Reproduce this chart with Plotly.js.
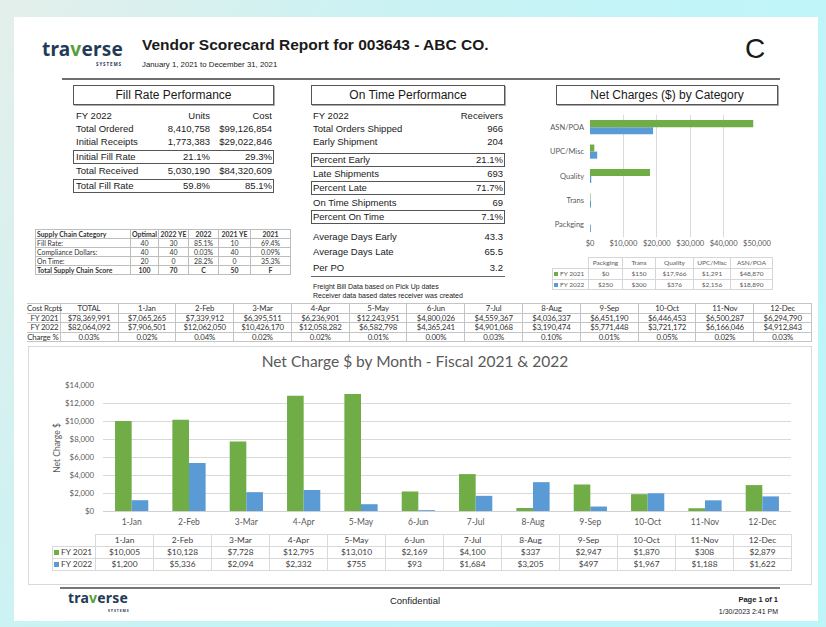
<!DOCTYPE html>
<html><head><meta charset="utf-8">
<script src="https://cdn.plot.ly/plotly-3.0.1.min.js"></script>
<style>
html,body{margin:0;padding:0;}
body{width:826px;height:627px;overflow:hidden;position:relative;
 background:linear-gradient(120deg,#e4efea 0%,#cdf2f3 30%,#c0f4f8 60%,#bdf5f9 100%);
 font-family:"Liberation Sans",Arial,sans-serif;color:#1a1a1a;}
.card{position:absolute;left:14px;top:17px;width:804px;height:604px;background:#fff;}
.t{position:absolute;white-space:nowrap;}
.bx{position:absolute;box-sizing:border-box;border:1px solid #555;}
.rule{position:absolute;background:#6a6a6a;}
table{border-collapse:collapse;table-layout:fixed;position:absolute;font-family:Lato,sans-serif;}
td{padding:0;overflow:visible;white-space:nowrap;}
.logo{position:absolute;font-family:"Noto Sans",sans-serif;font-weight:bold;color:#1f3b57;letter-spacing:0.2px;}
.logo .v{color:#5a9e3a;}
.sys{position:absolute;font-family:"Noto Sans",sans-serif;font-weight:bold;color:#1f3b57;letter-spacing:0.9px;}
</style></head>
<body>
<div class="card"></div>
<div id="netcat" style="position:absolute;left:540px;top:110px;width:240px;height:142px;"></div>
<div id="monthly" style="position:absolute;left:28px;top:346px;width:784px;height:186px;"></div>
<script>
// ---------------- DATA ----------------
const reportTitle = 'Vendor Scorecard Report for 003643 - ABC CO.';
const reportDates = 'January 1, 2021 to December 31, 2021';
const overallGrade = 'C';

const fillHeader = ['FY 2022', 'Units', 'Cost'];
const fillLabels = ['Total Ordered', 'Initial Receipts', 'Initial Fill Rate', 'Total Received', 'Total Fill Rate'];
const fillUnits = ['8,410,758', '1,773,383', '21.1%', '5,030,190', '59.8%'];
const fillCost = ['$99,126,854', '$29,022,846', '29.3%', '$84,320,609', '85.1%'];

const onTimeHeader = ['FY 2022', 'Receivers'];
const onTimeLabels = ['Total Orders Shipped', 'Early Shipment', 'Percent Early', 'Late Shipments', 'Percent Late',
  'On Time Shipments', 'Percent On Time', 'Average Days Early', 'Average Days Late', 'Per PO'];
const onTimeValues = ['966', '204', '21.1%', '693', '71.7%', '69', '7.1%', '43.3', '65.5', '3.2'];
const onTimeNotes = ['Freight Bill Data based on Pick Up dates', 'Receiver data based dates receiver was created'];

const scHeaders = ['Supply Chain Category', 'Optimal', '2022 YE', '2022', '2021 YE', '2021'];
const scCategories = ['Fill Rate:', 'Compliance Dollars:', 'On Time:', 'Total Supply Chain Score'];
const scOptimal = ['40', '40', '20', '100'];
const sc2022YE = ['30', '40', '0', '70'];
const sc2022 = ['85.1%', '0.03%', '28.2%', 'C'];
const sc2021YE = ['10', '40', '0', '50'];
const sc2021 = ['69.4%', '0.09%', '35.3%', 'F'];

const catNames = ['Packging', 'Trans', 'Quality', 'UPC/Misc', 'ASN/POA'];
const catFY2021 = [0, 150, 17966, 1291, 48870];
const catFY2022 = [250, 300, 376, 2156, 18890];

const costColumns = ['TOTAL', '1-Jan', '2-Feb', '3-Mar', '4-Apr', '5-May', '6-Jun', '7-Jul', '8-Aug', '9-Sep', '10-Oct', '11-Nov', '12-Dec'];
const costFY2021 = [78369991, 7065265, 7339912, 6395511, 6236901, 12243951, 4800026, 4559367, 4036337, 6451190, 6446453, 6500287, 6294790];
const costFY2022 = [82064092, 7906501, 12062050, 10426170, 12058282, 6582798, 4365241, 4901068, 3190474, 5771448, 3721172, 6166046, 4912843];
const chargePct = ['0.03%', '0.02%', '0.04%', '0.02%', '0.02%', '0.01%', '0.00%', '0.03%', '0.10%', '0.01%', '0.05%', '0.02%', '0.03%'];

const months = ['1-Jan', '2-Feb', '3-Mar', '4-Apr', '5-May', '6-Jun', '7-Jul', '8-Aug', '9-Sep', '10-Oct', '11-Nov', '12-Dec'];
const netFY2021 = [10005, 10128, 7728, 12795, 13010, 2169, 4100, 337, 2947, 1870, 308, 2879];
const netFY2022 = [1200, 5336, 2094, 2332, 755, 93, 1684, 3205, 497, 1967, 1188, 1622];
const seriesNames = ['FY 2021', 'FY 2022'];

const footerCenter = 'Confidential';
const footerPage = 'Page 1 of 1';
const footerStamp = '1/30/2023 2:41 PM';

// ---------------- HELPERS ----------------
const GREEN = '#70ad47', BLUE = '#5b9bd5';
function txt(s, x, y, o) {
  o = o || {};
  const d = document.createElement('div');
  d.className = 't';
  d.textContent = s;
  const fs = o.fs || 9.5, h = fs * 1.2;
  d.style.fontSize = fs + 'px';
  d.style.top = (y - h / 2) + 'px'; d.style.height = h + 'px'; d.style.lineHeight = h + 'px';
  if (o.align === 'right') { d.style.left = (x - 400) + 'px'; d.style.width = '400px'; d.style.textAlign = 'right'; }
  else if (o.align === 'center') { d.style.left = (x - 400) + 'px'; d.style.width = '800px'; d.style.textAlign = 'center'; }
  else d.style.left = x + 'px';
  if (o.bold) d.style.fontWeight = 'bold';
  if (o.color) d.style.color = o.color;
  if (o.family) d.style.fontFamily = o.family;
  document.body.appendChild(d);
  return d;
}
function box(x1, y1, x2, y2, extra) {
  const d = document.createElement('div');
  d.className = 'bx';
  d.style.left = x1 + 'px'; d.style.top = y1 + 'px';
  d.style.width = (x2 - x1) + 'px'; d.style.height = (y2 - y1) + 'px';
  if (extra) Object.assign(d.style, extra);
  document.body.appendChild(d);
  return d;
}
function rule(x1, y, x2, h, color) {
  const d = document.createElement('div');
  d.className = 'rule';
  d.style.left = x1 + 'px'; d.style.top = y + 'px'; d.style.width = (x2 - x1) + 'px'; d.style.height = h + 'px';
  if (color) d.style.background = color;
  document.body.appendChild(d);
}
function table(x, y, colWidths, rowH, rows, style) {
  const t = document.createElement('table');
  t.style.left = x + 'px'; t.style.top = y + 'px';
  t.style.width = colWidths.reduce((a, b) => a + b, 0) + 'px';
  if (style.ls) t.style.letterSpacing = style.ls + 'px';
  const cg = document.createElement('colgroup');
  colWidths.forEach(w => { const c = document.createElement('col'); c.style.width = w + 'px'; cg.appendChild(c); });
  t.appendChild(cg);
  rows.forEach((r, ri) => {
    const tr = document.createElement('tr');
    r.forEach((cell, ci) => {
      const td = document.createElement('td');
      td.style.height = rowH + 'px'; td.style.lineHeight = rowH + 'px';
      td.style.fontSize = style.fs + 'px'; td.style.color = style.color;
      td.style.border = '1px solid ' + style.border;
      td.style.textAlign = ci === 0 ? (style.firstAlign || 'left') : 'center';
      if (ci === 0 && style.firstPad) td.style.paddingLeft = style.firstPad + 'px';
      if (ci === 0 && style.firstPadR) td.style.paddingRight = style.firstPadR + 'px';
      if (ci === 0 && style.noLeft) td.style.borderLeft = 'none';
      if (style.boldRows && style.boldRows.indexOf(ri) >= 0) td.style.fontWeight = 'bold';
      if (typeof cell === 'object' && cell !== null) {
        if (cell.html) td.innerHTML = cell.html; else td.textContent = cell.text;
        if (cell.noBorder) { td.style.borderTop = 'none'; td.style.borderLeft = 'none'; }
      } else td.textContent = cell;
      tr.appendChild(td);
    });
    t.appendChild(tr);
  });
  document.body.appendChild(t);
  return t;
}
const money = v => '$' + v.toLocaleString('en-US');
function logo(x, y, fs, sx, sy, sfs) {
  const l = document.createElement('div');
  l.className = 'logo'; l.style.left = x + 'px'; l.style.top = y + 'px'; l.style.fontSize = fs + 'px';
  l.style.lineHeight = fs + 'px'; l.style.height = fs + 'px';
  l.innerHTML = 'tra<span class="v">v</span>erse';
  document.body.appendChild(l);
  const s = document.createElement('div');
  s.className = 'sys'; s.style.left = sx + 'px'; s.style.top = sy + 'px'; s.style.fontSize = sfs + 'px';
  s.style.lineHeight = sfs + 'px';
  s.textContent = 'SYSTEMS';
  document.body.appendChild(s);
}

// ---------------- HEADER ----------------
logo(42, 40, 19, 96, 61.5, 4.5);
txt(reportTitle, 142, 45, { fs: 15.5, bold: true });
txt(reportDates, 142, 65, { fs: 7.8 });
txt(overallGrade, 755, 49, { fs: 28, align: 'center' });
rule(62, 78, 780, 2, '#6e6e6e');

// ---------------- FILL RATE ----------------
box(73, 85, 274, 105, { boxShadow: '1px 1px 0 #aaa' });
txt('Fill Rate Performance', 173.5, 95, { fs: 12, align: 'center' });
txt(fillHeader[0], 76, 116);
txt(fillHeader[1], 210, 116, { align: 'right' });
txt(fillHeader[2], 272, 116, { align: 'right' });
const fillY = [129, 142, 157, 171, 186];
const fillBoxed = [false, false, true, false, true];
fillLabels.forEach((lab, i) => {
  if (fillBoxed[i]) box(73, fillY[i] - 7, 274, fillY[i] + 7);
  txt(lab, 76, fillY[i]);
  txt(fillUnits[i], 210, fillY[i], { align: 'right' });
  txt(fillCost[i], 272, fillY[i], { align: 'right' });
});

// ---------------- ON TIME ----------------
box(311, 85, 505, 105, { boxShadow: '1px 1px 0 #aaa' });
txt('On Time Performance', 408, 95, { fs: 12, align: 'center' });
txt(onTimeHeader[0], 313, 116);
txt(onTimeHeader[1], 503, 116, { align: 'right' });
const otY = [129, 142, 160, 174, 188, 203, 217, 237, 252, 268];
const otBoxed = [false, false, true, false, true, false, true, false, false, false];
onTimeLabels.forEach((lab, i) => {
  if (otBoxed[i]) box(311, otY[i] - 7, 505, otY[i] + 7);
  txt(lab, 313, otY[i]);
  txt(onTimeValues[i], 503, otY[i], { align: 'right' });
});
rule(311, 276, 505, 1, '#666');
txt(onTimeNotes[0], 313, 287, { fs: 7 });
txt(onTimeNotes[1], 313, 296, { fs: 7 });

// ---------------- SUPPLY CHAIN TABLE ----------------
(function () {
  const rows = [scHeaders];
  scCategories.forEach((c, i) => rows.push([c, scOptimal[i], sc2022YE[i], sc2022[i], sc2021YE[i], sc2021[i]]));
  table(35, 229, [95, 28, 30, 30, 32, 40], 8, rows,
    { fs: 6.9, color: '#333', border: '#bdbdbd', firstPad: 1, boldRows: [0, 4] });
})();

// ---------------- NET CHARGES BY CATEGORY ----------------
box(556, 85, 778, 105, { boxShadow: '1px 1px 0 #aaa' });
txt('Net Charges ($) by Category', 667, 95, { fs: 12, align: 'center' });
const axisFont = { family: 'Lato, sans-serif', color: '#595959' };
Plotly.newPlot('netcat', [
  { type: 'bar', orientation: 'h', name: seriesNames[1], y: catNames, x: catFY2022, marker: { color: BLUE } },
  { type: 'bar', orientation: 'h', name: seriesNames[0], y: catNames, x: catFY2021, marker: { color: GREEN } }
], {
  width: 240, height: 142, margin: { l: 50, r: 23, t: 5, b: 15 },
  barmode: 'group', bargap: 0.42, bargroupgap: 0, showlegend: false,
  paper_bgcolor: 'rgba(0,0,0,0)', plot_bgcolor: 'rgba(0,0,0,0)',
  xaxis: { range: [0, 50000], dtick: 10000, tick0: 0, tickprefix: '$', tickformat: ',d', showgrid: true,
    gridcolor: '#d9d9d9', zeroline: false, ticks: '', tickfont: Object.assign({ size: 7.5 }, axisFont), automargin: false },
  yaxis: { type: 'category', categoryorder: 'array', categoryarray: catNames, showgrid: false, zeroline: false,
    ticks: '', ticklabelstandoff: 5, tickfont: Object.assign({ size: 7.5 }, axisFont), automargin: false }
}, { staticPlot: true, displayModeBar: false });

(function () {
  const sq = c => '<span style="display:inline-block;width:4px;height:4px;background:' + c + ';margin-right:2px;vertical-align:middle"></span>';
  const rows = [[{ text: '', noBorder: true }].concat(catNames)];
  rows.push([{ html: sq(GREEN) + seriesNames[0] }].concat(catFY2021.map(money)));
  rows.push([{ html: sq(BLUE) + seriesNames[1] }].concat(catFY2022.map(money)));
  table(552, 257, [36, 34, 33, 38, 37, 42], 9.8, rows,
    { fs: 6.5, color: '#595959', border: '#d6d6d6', firstPad: 1 });
})();

// ---------------- COST RECEIPTS TABLE ----------------
(function () {
  const rows = [['Cost Rcpts'].concat(costColumns),
    ['FY 2021'].concat(costFY2021.map(money)),
    ['FY 2022'].concat(costFY2022.map(money)),
    ['Charge %'].concat(chargePct)];
  const w = [33, 58]; for (let i = 0; i < 12; i++) w.push(57.8);
  table(27, 303, w, 8.6, rows, { fs: 7.8, ls: -0.15, color: '#333', border: '#c4c4c4', firstAlign: 'right', firstPadR: 1, noLeft: true });
})();

// ---------------- MONTHLY CHART ----------------
box(28, 346, 812, 585, { border: '1px solid #d9d9d9' });
Plotly.newPlot('monthly', [
  { type: 'bar', name: seriesNames[0], x: months, y: netFY2021, marker: { color: GREEN } },
  { type: 'bar', name: seriesNames[1], x: months, y: netFY2022, marker: { color: BLUE } }
], {
  width: 784, height: 186, margin: { l: 75, r: 21, t: 39, b: 21 },
  barmode: 'group', bargap: 0.42, bargroupgap: 0, showlegend: false,
  paper_bgcolor: 'rgba(0,0,0,0)', plot_bgcolor: 'rgba(0,0,0,0)',
  title: { text: 'Net Charge $ by Month - Fiscal 2021 & 2022', font: { family: 'Lato, sans-serif', size: 15.5, color: '#595959' },
    x: (415 - 28) / 784, xanchor: 'center', y: 0.914, yanchor: 'middle' },
  xaxis: { type: 'category', ticks: '', showline: false, ticklabelstandoff: 4, tickfont: Object.assign({ size: 8.5 }, axisFont), automargin: false },
  yaxis: { range: [0, 14000], dtick: 2000, tick0: 0, tickprefix: '$', tickformat: ',d', gridcolor: '#d9d9d9',
    zeroline: true, zerolinecolor: '#d0d0d0', ticks: '', ticklabelstandoff: 8,
    tickfont: Object.assign({ size: 7.8 }, axisFont), automargin: false,
    title: { text: 'Net Charge $', font: Object.assign({ size: 8.5 }, axisFont), standoff: 3 } }
}, { staticPlot: true, displayModeBar: false });

(function () {
  const sq = c => '<span style="display:inline-block;width:5px;height:5px;background:' + c + ';margin-right:2px;vertical-align:middle"></span>';
  const rows = [[{ text: '', noBorder: true }].concat(months)];
  rows.push([{ html: sq(GREEN) + seriesNames[0] }].concat(netFY2021.map(money)));
  rows.push([{ html: sq(BLUE) + seriesNames[1] }].concat(netFY2022.map(money)));
  const w = [43]; for (let i = 0; i < 12; i++) w.push(58);
  table(52, 534, w, 11, rows, { fs: 8.4, color: '#404040', border: '#d9d9d9', firstPad: 1 });
})();

// ---------------- FOOTER ----------------
rule(60, 587, 780, 2, '#777');
logo(68, 591, 14, 108, 608.5, 3.5);
txt(footerCenter, 415, 601, { fs: 9.5, align: 'center' });
txt(footerPage, 778, 599, { fs: 7.5, bold: true, align: 'right' });
txt(footerStamp, 778, 612, { fs: 7, align: 'right' });
</script>
</body></html>
